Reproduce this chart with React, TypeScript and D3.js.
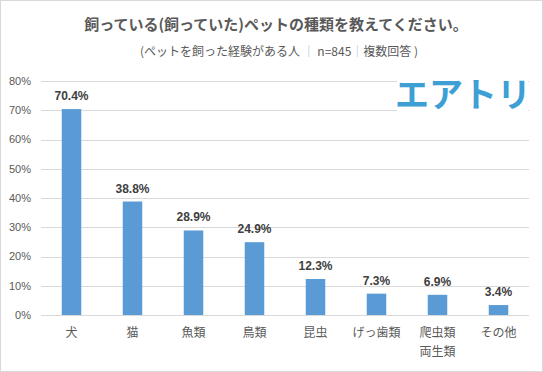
import React, { useEffect, useRef } from 'react';
import * as d3 from 'd3';

const categories = ['犬', '猫', '魚類', '鳥類', '昆虫', 'げっ歯類', '爬虫類\n両生類', 'その他'];
const values = [70.4, 38.8, 28.9, 24.9, 12.3, 7.3, 6.9, 3.4];
const yTicks = [0, 10, 20, 30, 40, 50, 60, 70, 80];

const title = '飼っている(飼っていた)ペットの種類を教えてください。';
const logoText = 'エアトリ';

const JP = '"Noto Sans CJK JP", "Noto Sans", sans-serif';

const App: React.FC = () => {
  const svgRef = useRef<SVGSVGElement>(null);
  const width = 543;
  const height = 372;

  useEffect(() => {
    if (!svgRef.current) return;
    const svg = d3.select(svgRef.current);
    svg.selectAll('*').remove();

    const margin = { top: 81, right: 14, bottom: 57, left: 41 };
    const innerWidth = width - margin.left - margin.right;
    const innerHeight = height - margin.top - margin.bottom;

    // outer border
    svg.append('rect')
      .attr('x', 0.5).attr('y', 0.5)
      .attr('width', width - 1).attr('height', height - 1)
      .attr('fill', '#fff')
      .attr('stroke', '#d9d9d9');

    // title
    svg.append('text')
      .attr('x', 276).attr('y', 30)
      .attr('text-anchor', 'middle')
      .style('font-family', JP)
      .style('font-size', '15px')
      .style('font-weight', 'bold')
      .style('fill', '#595959')
      .text(title);

    const sub = svg.append('text')
      .attr('x', 279).attr('y', 56)
      .attr('text-anchor', 'middle')
      .style('font-family', JP)
      .style('font-size', '12px')
      .style('fill', '#595959');
    sub.append('tspan').text('(ペットを飼った経験がある人 ');
    sub.append('tspan').style('fill', '#9dc3e6').text('｜');
    sub.append('tspan').text(' n=845');
    sub.append('tspan').style('fill', '#9dc3e6').text('｜');
    sub.append('tspan').text('複数回答 )');

    const g = svg.append('g')
      .attr('transform', `translate(${margin.left},${margin.top})`);

    const x = d3.scaleBand()
      .domain(categories)
      .range([0, innerWidth])
      .paddingInner(0.68)
      .paddingOuter(0.34);

    const y = d3.scaleLinear()
      .domain([0, 80])
      .range([innerHeight, 0]);

    // gridlines
    g.append('g')
      .selectAll('line')
      .data(yTicks)
      .enter().append('line')
      .attr('x1', 0).attr('x2', innerWidth)
      .attr('y1', d => Math.round(y(d)) + 0.5)
      .attr('y2', d => Math.round(y(d)) + 0.5)
      .attr('stroke', '#d9d9d9')
      .attr('stroke-width', 1);

    // y tick labels
    g.append('g')
      .selectAll('text')
      .data(yTicks)
      .enter().append('text')
      .attr('x', -10)
      .attr('y', d => y(d))
      .attr('dy', '0.35em')
      .attr('text-anchor', 'end')
      .style('font-family', '"Liberation Sans", sans-serif')
      .style('font-size', '11px')
      .style('fill', '#595959')
      .text(d => `${d}%`);

    // bars
    g.append('g')
      .selectAll('rect')
      .data(values)
      .enter().append('rect')
      .attr('x', (_, i) => x(categories[i])!)
      .attr('width', x.bandwidth())
      .attr('y', d => y(d))
      .attr('height', d => innerHeight - y(d))
      .attr('fill', '#5b9bd5');

    // value labels
    g.append('g')
      .selectAll('text')
      .data(values)
      .enter().append('text')
      .attr('x', (_, i) => x(categories[i])! + x.bandwidth() / 2)
      .attr('y', d => y(d) - 9)
      .attr('text-anchor', 'middle')
      .style('font-family', '"Liberation Sans", sans-serif')
      .style('font-size', '12px')
      .style('font-weight', 'bold')
      .style('fill', '#404040')
      .text(d => `${d.toFixed(1)}%`);

    // category labels
    const cat = g.append('g')
      .selectAll('text')
      .data(categories)
      .enter().append('text')
      .attr('x', d => x(d)! + x.bandwidth() / 2)
      .attr('y', innerHeight + 22)
      .attr('text-anchor', 'middle')
      .style('font-family', JP)
      .style('font-size', '12px')
      .style('fill', '#595959');
    cat.each(function (d) {
      const lines = d.split('\n');
      const t = d3.select(this);
      lines.forEach((ln, k) => {
        t.append('tspan')
          .attr('x', x(d)! + x.bandwidth() / 2)
          .attr('dy', k === 0 ? 0 : 19)
          .text(ln);
      });
    });

    // logo
    svg.append('rect')
      .attr('x', 397).attr('y', 77)
      .attr('width', 131).attr('height', 36)
      .attr('fill', '#fff');
    svg.append('text')
      .attr('x', 463).attr('y', 107)
      .attr('text-anchor', 'middle')
      .style('font-family', JP)
      .style('font-size', '34px')
      .style('font-weight', 'bold')
      .style('fill', '#3d9fd4')
      .text(logoText);
  }, []);

  return (
    <svg
      ref={svgRef}
      width={width}
      height={height}
      style={{ position: 'absolute', left: 0, top: 0, display: 'block' }}
    />
  );
};

export default App;
